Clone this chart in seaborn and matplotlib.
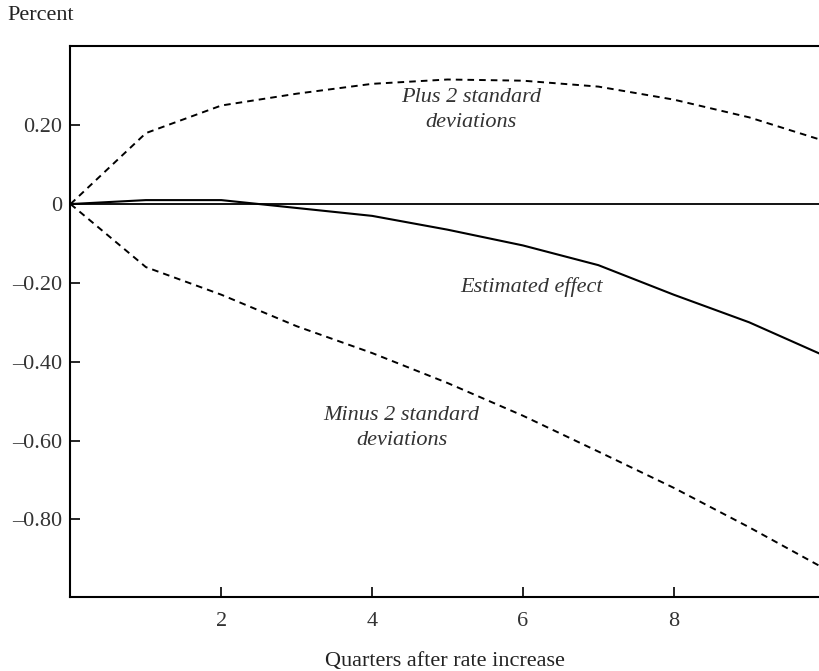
import matplotlib
matplotlib.use("Agg")
import matplotlib.pyplot as plt
import seaborn as sns
import pandas as pd

quarters = [0, 1, 2, 3, 4, 5, 6, 7, 8, 9, 10]
estimated = [0, 0.01, 0.01, -0.01, -0.03, -0.065, -0.105, -0.155, -0.23, -0.30, -0.385]
plus2 = [0, 0.18, 0.25, 0.28, 0.305, 0.316, 0.313, 0.298, 0.265, 0.22, 0.16]
minus2 = [0, -0.16, -0.23, -0.31, -0.378, -0.454, -0.537, -0.628, -0.72, -0.82, -0.925]

xticks = [2, 4, 6, 8]
yticks = [-0.8, -0.6, -0.4, -0.2, 0, 0.2]
ytick_labels = ["\u20130.80", "\u20130.60", "\u20130.40", "\u20130.20", "0", "0.20"]

sns.set_theme(style="white")
plt.rcParams["font.family"] = ["Liberation Serif", "DejaVu Serif"]

fig = plt.figure(figsize=(8.20, 6.71), dpi=100)
ax = fig.add_axes([70.5 / 820, 1 - 597 / 671, 1 - 70.5 / 820, (597 - 46) / 671])

df = pd.DataFrame({"q": quarters, "est": estimated, "plus": plus2, "minus": minus2})

ax.axhline(0, color="black", lw=1.3, zorder=1)
sns.lineplot(data=df, x="q", y="est", ax=ax, color="black", lw=1.5, zorder=3)
sns.lineplot(data=df, x="q", y="plus", ax=ax, color="black", lw=1.4, zorder=3)
ax.lines[-1].set_dashes((3.4, 2.6))
sns.lineplot(data=df, x="q", y="minus", ax=ax, color="black", lw=1.4, zorder=3)
ax.lines[-1].set_dashes((3.4, 2.6))

ax.set_xlim(0, 9.94)
ax.set_ylim(-0.997, 0.401)
ax.set_xticks(xticks)
ax.set_xticklabels([str(t) for t in xticks])
ax.set_yticks(yticks)
ax.set_yticklabels(ytick_labels)

for side in ["left", "bottom", "top"]:
    ax.spines[side].set_visible(True)
    ax.spines[side].set_color("black")
    ax.spines[side].set_linewidth(1.5)
ax.spines["right"].set_visible(False)

ax.tick_params(axis="both", direction="in", length=7.5, width=1.2, color="black",
               labelsize=16, labelcolor="#333333")
ax.tick_params(axis="x", pad=11, bottom=True)
ax.tick_params(axis="y", pad=6, left=True)

ax.set_xlabel("Quarters after rate increase", fontsize=16, color="#222222", labelpad=15)
ax.set_ylabel("")

fig.text(7 / 820, 1 - 15 / 671, "Percent", fontsize=16, color="#222222", va="center", ha="left")

tkw = dict(fontsize=16, style="italic", color="#333333", ha="center", va="center", linespacing=1.45)
ax.text(5.31, 0.239, "Plus 2 standard\ndeviations", **tkw)
ax.text(6.11, -0.21, "Estimated effect", **tkw)
ax.text(4.39, -0.569, "Minus 2 standard\ndeviations", **tkw)

fig.savefig("out.png", dpi=100)
